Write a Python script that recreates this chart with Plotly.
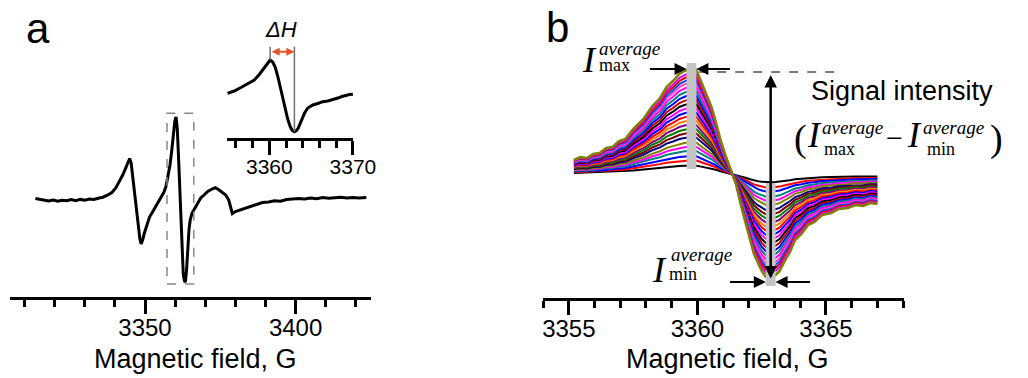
import plotly.graph_objects as go

W, H = 1028, 378

# ---------------- Panel a: full EPR spectrum ----------------
field_a = [3313.6, 3315.0, 3316.5, 3318.0, 3319.5, 3321.0, 3322.5, 3324.0, 3325.5, 3327.0,
           3328.5, 3330.0, 3331.5, 3333.0, 3334.5, 3336.0, 3337.5, 3339.0, 3340.3, 3341.5,
           3342.6, 3343.6, 3344.4, 3344.9, 3345.4, 3346.0, 3346.6, 3347.2, 3347.8, 3348.3,
           3348.7, 3349.2, 3349.8, 3350.6, 3351.5, 3352.5, 3353.5, 3354.5, 3355.5, 3356.3,
           3357.0, 3357.7, 3358.3, 3358.9, 3359.4, 3359.9, 3360.3, 3360.7, 3361.1, 3361.5,
           3361.9, 3362.3, 3362.7, 3363.1, 3363.4, 3363.8, 3364.2, 3364.6, 3365.0, 3365.6,
           3366.4, 3367.4, 3368.5, 3369.6, 3370.8, 3372.0, 3373.3, 3374.4, 3375.6, 3376.8,
           3377.8, 3378.4, 3379.0, 3380.0, 3381.5, 3383.0, 3385.0, 3387.0, 3389.0, 3391.0,
           3393.0, 3395.0, 3397.0, 3399.0, 3401.0, 3403.0, 3405.0, 3407.0, 3409.0, 3411.0,
           3413.0, 3415.0, 3417.0, 3419.0, 3421.0, 3423.5]
signal_a = [1.5, 0.5, -0.5, -1.0, 0.0, -1.2, -0.3, -0.8, 0.4, -0.6,
            0.6, -0.2, 0.9, 0.5, 1.8, 2.8, 4.8, 7.5, 12.0, 18.5,
            25.0, 32.0, 38.5, 41.5, 37.0, 22.0, 6.0, -12.0, -28.0, -39.0,
            -44.0, -40.0, -33.0, -25.0, -17.0, -12.0, -7.0, -2.0, 3.0, 8.0,
            14.0, 24.0, 35.0, 50.0, 65.0, 79.0, 83.0, 72.0, 45.0, 10.0,
            -25.0, -55.0, -74.0, -81.0, -82.0, -70.0, -48.0, -30.0, -20.0, -13.0,
            -9.0, -3.0, 2.0, 5.0, 8.5, 10.5, 12.3, 10.5, 8.0, 5.0,
            0.0, -7.0, -13.5, -11.5, -10.0, -8.0, -6.0, -4.0, -2.5, -2.0,
            -0.8, -1.2, 0.5, 1.0, 1.5, 1.0, 2.0, 1.3, 2.5, 1.8,
            2.2, 2.8, 2.0, 2.6, 2.0, 2.5]

# inset: zoom of the central line
field_inset = [3355.0, 3355.8, 3356.6, 3357.4, 3358.2, 3358.8, 3359.4, 3359.8, 3360.1, 3360.4,
               3360.7, 3361.0, 3361.3, 3361.6, 3361.9, 3362.2, 3362.5, 3362.75, 3363.0, 3363.25,
               3363.45, 3363.8, 3364.2, 3364.6, 3365.2, 3365.8, 3366.4, 3367.0, 3367.5, 3367.9,
               3368.4, 3368.8, 3369.2, 3369.6, 3370.0]
signal_inset = [6.7, 9.0, 12.5, 16.0, 20.0, 25.5, 32.0, 37.5, 40.0, 38.0,
                33.0, 24.0, 13.0, 0.5, -10.0, -19.0, -26.7, -30.5, -31.7, -30.5,
                -28.3, -21.0, -13.3, -8.0, -5.0, -3.5, -1.7, -1.0, 0.0, 1.5,
                2.5, 3.8, 5.0, 5.5, 5.8]
dH_left, dH_right = 3360.1, 3363.0
box_a = [3357.3, 3366.2, -84.0, 86.7]   # dashed box: x0, x1, y0, y1

# ---------------- Panel b: family of spectra ----------------
field_b = [3355.2, 3355.45, 3355.7, 3355.95, 3356.2, 3356.45, 3356.7, 3356.95, 3357.2, 3357.5,
           3357.9, 3358.25, 3358.55, 3358.8, 3359.05, 3359.3, 3359.5, 3359.77, 3359.96, 3360.15,
           3360.35, 3360.55, 3360.72, 3360.9, 3361.1, 3361.33, 3361.5, 3361.7, 3361.9, 3362.05,
           3362.2, 3362.35, 3362.5, 3362.66, 3362.85, 3363.04, 3363.2, 3363.4, 3363.6, 3363.8,
           3364.05, 3364.3, 3364.55, 3364.85, 3365.2, 3365.5, 3365.85, 3366.15, 3366.45, 3366.72,
           3367.0]
# line shape of the largest (outermost, olive) spectrum, px-scaled a.u.
shape_b = [14, 17, 16, 20, 21, 26, 27, 33, 35, 45,
           55, 68, 76, 87, 93, 100, 103, 106, 104, 92,
           80, 67, 52, 34, 18, 1, -10, -32, -50, -66,
           -80, -89, -97, -103, -104, -101, -97, -87, -78, -66,
           -60, -51, -48, -41, -39, -35, -34, -31, -32, -29,
           -30]
# relative amplitude of each recorded spectrum (smallest -> largest)
amps_b = [0.08, 0.13, 0.17, 0.22, 0.26, 0.30, 0.35, 0.39, 0.43, 0.47, 0.51, 0.55,
          0.59, 0.63, 0.67, 0.71, 0.75, 0.79, 0.83, 0.87, 0.90, 0.93, 0.96, 1.0]
colors_b = ['#000000', '#FF0000', '#0000FF', '#008080', '#FF00FF', '#808000', '#000080', '#800000',
            '#008000', '#800080', '#FF8000', '#FF0000', '#0000FF', '#FF00FF', '#000000', '#C00000',
            '#0000FF', '#008080', '#FF00FF', '#FF40C0', '#0050FF', '#E00000', '#E000E0', '#808000']
peak_pos, trough_pos = 3359.77, 3362.85

SANS = 'Liberation Sans'
SERIF = 'Liberation Serif'

fig = go.Figure()
fig.add_trace(go.Scatter(x=field_a, y=signal_a, xaxis='x', yaxis='y', mode='lines',
                         line=dict(color='black', width=3), hoverinfo='skip'))
fig.add_trace(go.Scatter(x=field_inset, y=signal_inset, xaxis='x2', yaxis='y2', mode='lines',
                         line=dict(color='black', width=3), hoverinfo='skip'))
for amp, col in zip(amps_b, colors_b):
    fig.add_trace(go.Scatter(x=field_b, y=[amp * v for v in shape_b], xaxis='x3', yaxis='y3',
                             mode='lines', line=dict(color=col, width=2.5 if amp == 1.0 else 2),
                             hoverinfo='skip'))


def xdom(px0, px1):
    return [px0 / W, px1 / W]


def ydom(py_bottom):
    return [1 - py_bottom / H, 1]


def xaxis_cfg(dom, rng, dtick, tick0, mdtick, fsize, anchor):
    return dict(domain=dom, range=rng, anchor=anchor, showline=True, linecolor='black', linewidth=3,
                ticks='outside', ticklen=14, tickwidth=2.5, tickcolor='black', dtick=dtick, tick0=tick0,
                ticklabelstandoff=-6,
                minor=dict(ticks='outside', dtick=mdtick, tick0=tick0, ticklen=7, tickwidth=2.5,
                           tickcolor='black', showgrid=False),
                tickfont=dict(family=SANS, size=fsize, color='black'), showgrid=False, zeroline=False,
                fixedrange=True)


fig.update_layout(
    width=W, height=H, margin=dict(l=0, r=0, t=0, b=0),
    paper_bgcolor='white', plot_bgcolor='rgba(0,0,0,0)', showlegend=False,
    xaxis=xaxis_cfg(xdom(10, 380), [3305.1, 3425.2], 50, 3300, 10, 24, 'y'),
    yaxis=dict(domain=ydom(296.5), range=[-96.5, 200], visible=False, fixedrange=True),
    xaxis2=xaxis_cfg(xdom(231.9, 361.4), [3354.9, 3370.05], 10, 3360, 2, 21, 'y2'),
    yaxis2=dict(domain=ydom(138), range=[-38, 100], visible=False, fixedrange=True),
    xaxis3=xaxis_cfg(xdom(555, 924.3), [3353.98, 3368.02], 5, 3355, 1, 24, 'y3'),
    yaxis3=dict(domain=ydom(297.5), range=[-123.5, 174], visible=False, fixedrange=True),
)

shapes = []
shapes.append(dict(type='rect', xref='x', yref='y', x0=box_a[0], x1=box_a[1], y0=box_a[2], y1=box_a[3],
                   line=dict(color='#888888', width=1.5, dash='dash')))
shapes.append(dict(type='line', xref='x2', yref='y2', x0=dH_left, x1=dH_left, y0=40, y1=53.3,
                   line=dict(color='#707070', width=1.5)))
shapes.append(dict(type='line', xref='x2', yref='y2', x0=dH_right, x1=dH_right, y0=-31.7, y1=53.3,
                   line=dict(color='#707070', width=1.5)))
shapes.append(dict(type='rect', xref='x3', yref='y3', x0=peak_pos - 0.19, x1=peak_pos + 0.19, y0=5, y1=111,
                   fillcolor='#c4c4c4', line=dict(width=0), layer='above'))
shapes.append(dict(type='rect', xref='x3', yref='y3', x0=trough_pos - 0.19, x1=trough_pos + 0.19, y0=-112, y1=-9,
                   fillcolor='#c4c4c4', line=dict(width=0), layer='above'))
shapes.append(dict(type='line', xref='x3', yref='y3', x0=3360.07, x1=3365.39, y0=102, y1=102,
                   line=dict(color='#7a7a7a', width=2, dash='dash')))
fig.update_layout(shapes=shapes)

ann = []


def P(px, py):
    return px / W, 1 - py / H


def txt(px, py, text, size, family=SANS, xanchor='center'):
    x, y = P(px, py)
    ann.append(dict(x=x, y=y, xref='paper', yref='paper', text=text, showarrow=False,
                    xanchor=xanchor, yanchor='middle', font=dict(family=family, size=size, color='black')))


def arrow(xr, yr, x, y, ax, ay, color='black', width=2, size=1.2, side='end'):
    ann.append(dict(x=x, y=y, ax=ax, ay=ay, xref=xr, yref=yr, axref=xr, ayref=yr, text='',
                    showarrow=True, arrowhead=2, arrowsize=size, arrowwidth=width, arrowcolor=color,
                    arrowside=side, standoff=0, startstandoff=0))


txt(38.5, 28, 'a', 42)
txt(570, 27.5, 'b', 42)
txt(287, 29, '<i>ΔH</i>', 22)
txt(200, 359, 'Magnetic field, G', 27)
txt(744, 359, 'Magnetic field, G', 27)
txt(922.5, 90.5, 'Signal intensity', 27)

# I_max label
txt(602.5, 60, '<i>I</i>', 36, SERIF)
txt(611, 48.5, '<i>average</i>', 19, SERIF, 'left')
txt(611, 64.5, 'max', 18, SERIF, 'left')
# I_min label
txt(675, 270, '<i>I</i>', 36, SERIF)
txt(684, 254, '<i>average</i>', 19, SERIF, 'left')
txt(682, 274, 'min', 18, SERIF, 'left')
# formula
txt(819, 139, '(', 38, SERIF)
txt(833.5, 135, '<i>I</i>', 36, SERIF)
txt(839, 127, '<i>average</i>', 19, SERIF, 'left')
txt(841, 149, 'max', 18, SERIF, 'left')
txt(915, 137, '−', 30, SERIF)
txt(935.5, 135, '<i>I</i>', 36, SERIF)
txt(942, 127, '<i>average</i>', 19, SERIF, 'left')
txt(946, 149, 'min', 18, SERIF, 'left')
txt(1019, 139, ')', 38, SERIF)

# arrows
arrow('x2', 'y2', dH_right, 48.3, dH_left, 48.3, color='#e6522c', width=2, size=0.8, side='end+start')
arrow('x3', 'y3', peak_pos - 0.19, 105, 3358.1, 105)
arrow('x3', 'y3', peak_pos + 0.19, 105, 3361.33, 105)
arrow('x3', 'y3', trough_pos - 0.19, -108, 3361.21, -108)
arrow('x3', 'y3', trough_pos + 0.19, -108, 3364.44, -108)
arrow('x3', 'y3', trough_pos, 99, trough_pos, -106, width=2.5, size=1.0, side='end+start')

fig.update_layout(annotations=ann)
fig.write_html('out.html', config={'displayModeBar': False},
               post_script="document.body.style.margin='0px';document.body.style.overflow='hidden';")
